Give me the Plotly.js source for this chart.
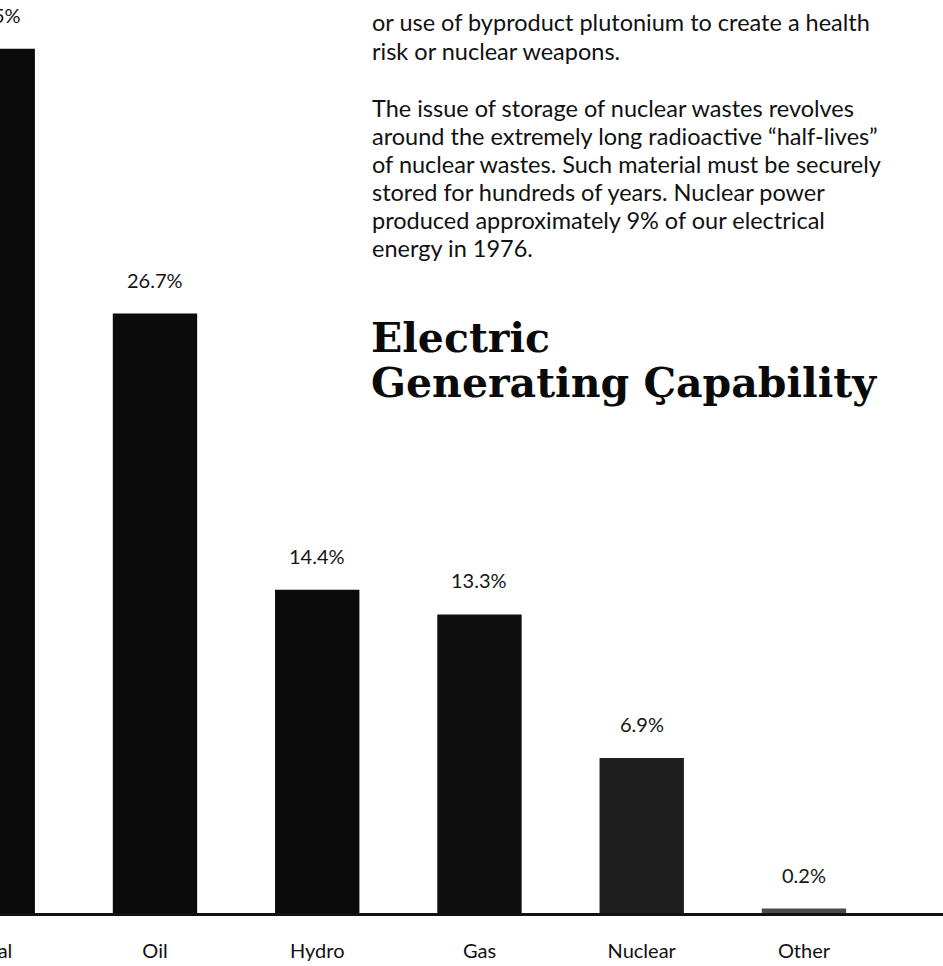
<!DOCTYPE html>
<html>
<head>
<meta charset="utf-8">
<script src="https://cdn.plot.ly/plotly-3.0.1.min.js"></script>
<style>
  html, body { margin: 0; padding: 0; background: #ffffff; overflow: hidden; }
  #wrap { position: absolute; left: -100px; top: 0; width: 1043px; height: 966px; }
</style>
</head>
<body>
<div id="wrap"></div>
<script>
// Electric generating capability by source, 1976 (percent of total)
const categories = ['Coal', 'Oil', 'Hydro', 'Gas', 'Nuclear', 'Other'];
const shares = [38.5, 26.7, 14.4, 13.3, 6.9, 0.2];

// Accompanying article text
const bodyLines = [
  'or use of byproduct plutonium to create a health',
  'risk or nuclear weapons.',
  'The issue of storage of nuclear wastes revolves',
  'around the extremely long radioactive \u201chalf-lives\u201d',
  'of nuclear wastes. Such material must be securely',
  'stored for hundreds of years. Nuclear power',
  'produced approximately 9% of our electrical',
  'energy in 1976.'
];
const titleLines = ['Electric', 'Generating \u00c7apability'];

// ---- layout geometry (pixels within the page) ----
const W = 1043, H = 966, OFFSET = 100;     // chart div is shifted left by OFFSET
const plotBottom = 913;                      // baseline of the bars
const pxPerPercent = 22.45;
const bodyTop = [22, 51, 108, 136, 164, 192, 220, 248];
const bodyLeft = 370;
const titleY = [338, 383];
const titleLeft = 369;

const barColors = ['#0b0b0b', '#0b0b0b', '#0b0b0b', '#0e0e0e', '#1e1e1e', '#4a4a4a'];
const sansFont = 'Lato, "Open Sans", sans-serif';
const serifFont = '"DejaVu Serif", serif';

const px2paperX = p => (p + OFFSET) / W;
const px2paperY = p => 1 - p / plotBottom;

const annotations = [];

// value labels above each bar
categories.forEach((c, i) => {
  annotations.push({
    x: c, y: shares[i], xref: 'x', yref: 'y',
    text: shares[i].toFixed(1) + '%',
    showarrow: false, yanchor: 'bottom', yshift: 20,
    font: { family: sansFont, size: 20, color: '#151515' }
  });
});

bodyLines.forEach((t, i) => {
  annotations.push({
    x: px2paperX(bodyLeft), y: px2paperY(bodyTop[i]), xref: 'paper', yref: 'paper',
    xanchor: 'left', yanchor: 'middle', showarrow: false, text: t,
    font: { family: sansFont, size: 23.5, color: '#111111' }
  });
});

titleLines.forEach((t, i) => {
  annotations.push({
    x: px2paperX(titleLeft), y: px2paperY(titleY[i]), xref: 'paper', yref: 'paper',
    xanchor: 'left', yanchor: 'middle', showarrow: false, text: '<b>' + t + '</b>',
    font: { family: serifFont, size: 41, color: '#0a0a0a' }
  });
});

const trace = {
  type: 'bar',
  x: categories,
  y: shares,
  marker: { color: barColors, line: { width: 0 } },
  hoverinfo: 'skip'
};

const layout = {
  width: W, height: H,
  margin: { l: 0, r: 0, t: 0, b: H - plotBottom, pad: 0 },
  paper_bgcolor: '#ffffff', plot_bgcolor: '#ffffff',
  showlegend: false,
  bargap: 0.48,
  xaxis: {
    type: 'category',
    range: [-0.5716, 5.857],
    showline: true, linecolor: '#111111', linewidth: 3,
    ticks: '', showgrid: false, zeroline: false,
    ticklabelstandoff: 18,
    tickfont: { family: sansFont, size: 20, color: '#111111' }
  },
  yaxis: {
    range: [0, plotBottom / pxPerPercent],
    visible: false, showgrid: false, zeroline: false
  },
  annotations: annotations
};

Plotly.newPlot('wrap', [trace], layout, { staticPlot: true, displayModeBar: false });
</script>
</body>
</html>
